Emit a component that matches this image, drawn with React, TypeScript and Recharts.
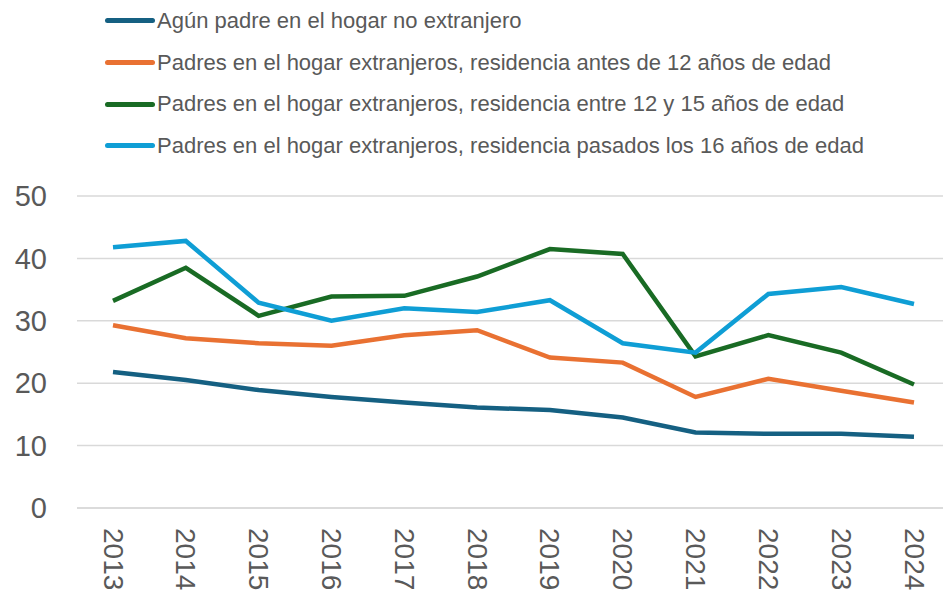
import { LineChart, Line, XAxis, YAxis, CartesianGrid, Legend } from 'recharts';

const years = ['2013', '2014', '2015', '2016', '2017', '2018', '2019', '2020', '2021', '2022', '2023', '2024'];

const noExtranjero = [21.8, 20.5, 18.9, 17.8, 16.9, 16.1, 15.7, 14.5, 12.1, 11.9, 11.9, 11.4];
const antes12 = [29.3, 27.2, 26.4, 26.0, 27.7, 28.5, 24.1, 23.3, 17.8, 20.7, 18.8, 16.9];
const entre12y15 = [33.2, 38.5, 30.8, 33.9, 34.0, 37.1, 41.5, 40.7, 24.3, 27.7, 24.9, 19.8];
const pasados16 = [41.8, 42.8, 32.9, 30.0, 32.0, 31.4, 33.3, 26.4, 24.9, 34.3, 35.4, 32.7];

const yTicks = [0, 10, 20, 30, 40, 50];

const series = [
  { key: 'a', name: 'Agún padre en el hogar no extranjero', color: '#156082' },
  { key: 'b', name: 'Padres en el hogar extranjeros, residencia antes de 12 años de edad', color: '#E97132' },
  { key: 'c', name: 'Padres en el hogar extranjeros, residencia entre 12 y 15 años de edad', color: '#196B24' },
  { key: 'd', name: 'Padres en el hogar extranjeros, residencia pasados los 16 años de edad', color: '#0F9ED5' },
];

const data = years.map((year, i) => ({
  year,
  a: noExtranjero[i],
  b: antes12[i],
  c: entre12y15[i],
  d: pasados16[i],
}));

const FONT = '"Liberation Sans", Arial, sans-serif';

const LegendBox = () => (
  <div style={{ position: 'absolute', left: 105, top: 0 }}>
    {series.map((s) => (
      <div key={s.key} style={{ display: 'flex', alignItems: 'center', height: 41.7 }}>
        <div style={{ width: 50, height: 5, borderRadius: 3, background: s.color }} />
        <span style={{ marginLeft: 2, fontFamily: FONT, fontSize: 22, color: '#595959', whiteSpace: 'nowrap' }}>
          {s.name}
        </span>
      </div>
    ))}
  </div>
);

const YearTick = ({ x, y, payload }: any) => (
  <text
    x={0}
    y={0}
    transform={`translate(${x},${y + 12}) rotate(90)`}
    textAnchor="start"
    dominantBaseline="central"
    fill="#595959"
    fontSize={28}
    fontFamily={FONT}
  >
    {payload.value}
  </text>
);

export default function App() {
  return (
    <div style={{ position: 'absolute', left: 0, top: 0, width: 943, height: 598, background: '#fff' }}>
      <LineChart width={943} height={598} data={data} margin={{ top: 196, right: 0, bottom: 0, left: 0 }}>
        <CartesianGrid vertical={false} stroke="#d9d9d9" strokeWidth={1.5} />
        <XAxis
          dataKey="year"
          height={90}
          padding={{ left: 36, right: 29 }}
          axisLine={{ stroke: '#d9d9d9', strokeWidth: 1.5 }}
          tickLine={false}
          tick={<YearTick />}
          interval={0}
        />
        <YAxis
          width={77}
          domain={[0, 50]}
          ticks={yTicks}
          axisLine={false}
          tickLine={false}
          tickSize={0}
          tickMargin={30}
          tick={{ fill: '#595959', fontSize: 29, fontFamily: FONT }}
        />
        <Legend content={() => <LegendBox />} wrapperStyle={{ top: 0, left: 0 }} />
        {series.map((s) => (
          <Line
            key={s.key}
            type="linear"
            dataKey={s.key}
            name={s.name}
            stroke={s.color}
            strokeWidth={4.5}
            dot={false}
            isAnimationActive={false}
          />
        ))}
      </LineChart>
    </div>
  );
}
